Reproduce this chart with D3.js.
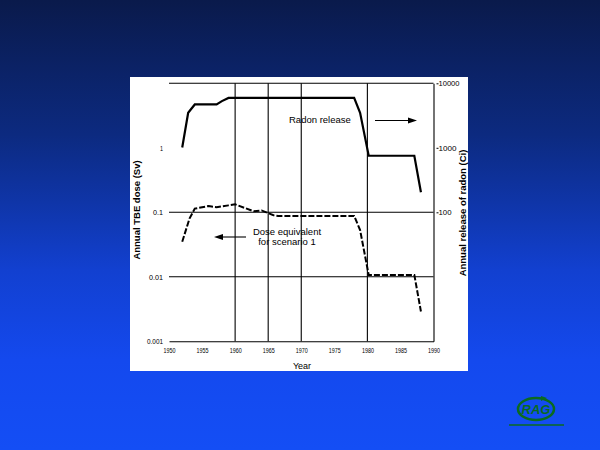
<!DOCTYPE html>
<html><head><meta charset="utf-8">
<script src="https://cdn.jsdelivr.net/npm/d3@7"></script>
<style>html,body{margin:0;padding:0;overflow:hidden;background:#0b1a4d}</style>
</head><body>
<script>
// ---- data ----
const years = [1950,1955,1960,1965,1970,1975,1980,1985,1990];
const yearLabels = ["1950","1955","1960","1965","1970","1975","1980","1985","1990"];
const doseTicks = [0.001,0.01,0.1,1];
const doseTickLabels = ["0.001","0.01","0.1","1"];
const radonTicks = [100,1000,10000];
const radonTickLabels = ["100","1000","10000"];
const gridDose = [0.01,0.1,10]; // horizontal grid lines (left-axis values)
const gridYears = [1960,1965,1970,1980];

const radonYears = [1952.0,1952.9,1953.9,1957.2,1958.0,1959.0,1978.0,1978.9,1980.2,1987.1,1988.1];
const radonValues = [1010,3490,4700,4700,5290,5940,5940,3490,753,753,205];

const doseYears = [1952.0,1953.1,1953.9,1956.0,1957.2,1959.0,1960.0,1962.8,1964.0,1965.8,1966.5,1978.0,1978.9,1980.2,1987.1,1988.1];
const doseValues = [0.035,0.08,0.114,0.125,0.12,0.128,0.133,0.1035,0.107,0.09,0.088,0.088,0.053,0.0107,0.0107,0.0029];

(function(){
const W = 600, H = 450;
const svg = d3.select("body").append("svg").attr("width", W).attr("height", H);

const defs = svg.append("defs");
const grad = defs.append("linearGradient").attr("id","bg").attr("x1",0).attr("y1",0).attr("x2",0).attr("y2",1);
[["0","#0a1a4b"],["0.3","#0c2a80"],["0.6","#1240d0"],["0.8","#1449ee"],["1","#144ef5"]].forEach(s=>
  grad.append("stop").attr("offset",s[0]).attr("stop-color",s[1]));
svg.append("rect").attr("width",W).attr("height",H).attr("fill","url(#bg)");

// white panel
svg.append("rect").attr("x",130).attr("y",77).attr("width",338).attr("height",294).attr("fill","#fff");

const pL = 169, pR = 433.5, pT = 83.3, pB = 341.3;
const x = d3.scaleLinear().domain([1950,1990]).range([pL,pR]);
const yDose = d3.scaleLog().domain([0.001,10]).range([pB,pT]);
const yRadon = d3.scaleLog().domain([1,10000]).range([pB,pT]);

const g = svg.append("g");
const font = "'Liberation Sans', Arial, Helvetica, sans-serif";

// horizontal grid lines
g.selectAll("line.hg").data(gridDose).enter().append("line")
  .attr("x1",pL).attr("x2",pR).attr("y1",d=>yDose(d)).attr("y2",d=>yDose(d))
  .attr("stroke","#000").attr("stroke-width",1.1);
// vertical grid lines
g.selectAll("line.vg").data(gridYears).enter().append("line")
  .attr("x1",d=>x(d)).attr("x2",d=>x(d)).attr("y1",pT).attr("y2",pB)
  .attr("stroke","#000").attr("stroke-width",1.1);

// bottom axis
const xAxis = d3.axisBottom(x).tickValues(years).tickFormat((d,i)=>yearLabels[i]).tickSize(0).tickPadding(6);
const gx = g.append("g").attr("transform",`translate(0,${pB})`).call(xAxis);
gx.select(".domain").attr("stroke","#000").attr("stroke-width",1.1);
gx.selectAll("text").attr("font-family",font).attr("font-size",8).attr("fill","#000")
  .attr("textLength",12).attr("lengthAdjust","spacingAndGlyphs");

// left axis (no line)
const yAxisL = d3.axisLeft(yDose).tickValues(doseTicks).tickFormat((d,i)=>doseTickLabels[i]).tickSize(0).tickPadding(6);
const gl = g.append("g").attr("transform",`translate(${pL},0)`).call(yAxisL);
gl.select(".domain").remove();
gl.selectAll("text").attr("font-family",font).attr("font-size",8).attr("fill","#000")
  .attr("textLength",d=>d===1?3:d===0.1?10:d===0.01?14:16).attr("lengthAdjust","spacingAndGlyphs");

// right axis
const yAxisR = d3.axisRight(yRadon).tickValues(radonTicks).tickFormat((d,i)=>radonTickLabels[i]).tickSize(0).tickPadding(5);
const gr = g.append("g").attr("transform",`translate(${pR},0)`).call(yAxisR);
gr.select(".domain").attr("stroke","#000").attr("stroke-width",1.1);
gr.selectAll("text").attr("font-family",font).attr("font-size",8).attr("fill","#000")
  .attr("textLength",d=>d===100?13:d===1000?18:21).attr("lengthAdjust","spacingAndGlyphs");
gr.selectAll(".tick").append("line").attr("x1",3).attr("x2",5).attr("stroke","#000");

// axis titles
g.append("text").attr("x",302).attr("y",369).attr("text-anchor","middle")
  .attr("font-family",font).attr("font-size",9).text("Year");
g.append("text").attr("transform","translate(140,210) rotate(-90)").attr("text-anchor","middle")
  .attr("font-family",font).attr("font-size",9.5).attr("font-weight","bold").text("Annual TBE dose (Sv)");
g.append("text").attr("transform","translate(466,213) rotate(-90)").attr("text-anchor","middle")
  .attr("font-family",font).attr("font-size",9.5).attr("font-weight","bold").text("Annual release of radon (Ci)");

// lines
const radonLine = d3.line().x((d,i)=>x(radonYears[i])).y(d=>yRadon(d));
g.append("path").datum(radonValues).attr("d",radonLine).attr("fill","none")
  .attr("stroke","#000").attr("stroke-width",2.2);
const doseLine = d3.line().x((d,i)=>x(doseYears[i])).y(d=>yDose(d));
g.append("path").datum(doseValues).attr("d",doseLine).attr("fill","none")
  .attr("stroke","#000").attr("stroke-width",2).attr("stroke-dasharray","6,2");

// annotations
function arrow(x1,x2,y){
  const dir = Math.sign(x2-x1);
  g.append("line").attr("x1",x1).attr("x2",x2-dir*6).attr("y1",y).attr("y2",y).attr("stroke","#000").attr("stroke-width",1.1);
  g.append("path").attr("d",`M${x2},${y} L${x2-dir*9},${y-3} L${x2-dir*9},${y+3} Z`).attr("fill","#000");
}
g.append("text").attr("x",289).attr("y",123).attr("font-family",font).attr("font-size",9.5).text("Radon release");
arrow(375,417,120.5);
g.append("text").attr("x",287).attr("y",234.5).attr("text-anchor","middle").attr("font-family",font).attr("font-size",9.5).text("Dose equivalent");
g.append("text").attr("x",287).attr("y",245).attr("text-anchor","middle").attr("font-family",font).attr("font-size",9.5).text("for scenario 1");
arrow(246,214,237);

// logo
const logo = svg.append("g").attr("fill","none").attr("stroke","#0b6a1f");
logo.append("ellipse").attr("cx",536).attr("cy",409).attr("rx",18).attr("ry",11).attr("stroke-width",2.5);
logo.append("path").attr("d","M541,396 L547,398 L541,401 Z").attr("fill","#0b6a1f").attr("stroke","none");
svg.append("text").attr("x",536).attr("y",414).attr("text-anchor","middle").attr("font-family",font)
  .attr("font-size",13).attr("font-weight","bold").attr("font-style","italic").attr("fill","#0b6a1f").text("RAG");
svg.append("line").attr("x1",509).attr("x2",564).attr("y1",425).attr("y2",425).attr("stroke","#0b6a1f").attr("stroke-width",1.5);
})();
</script>
</body></html>
